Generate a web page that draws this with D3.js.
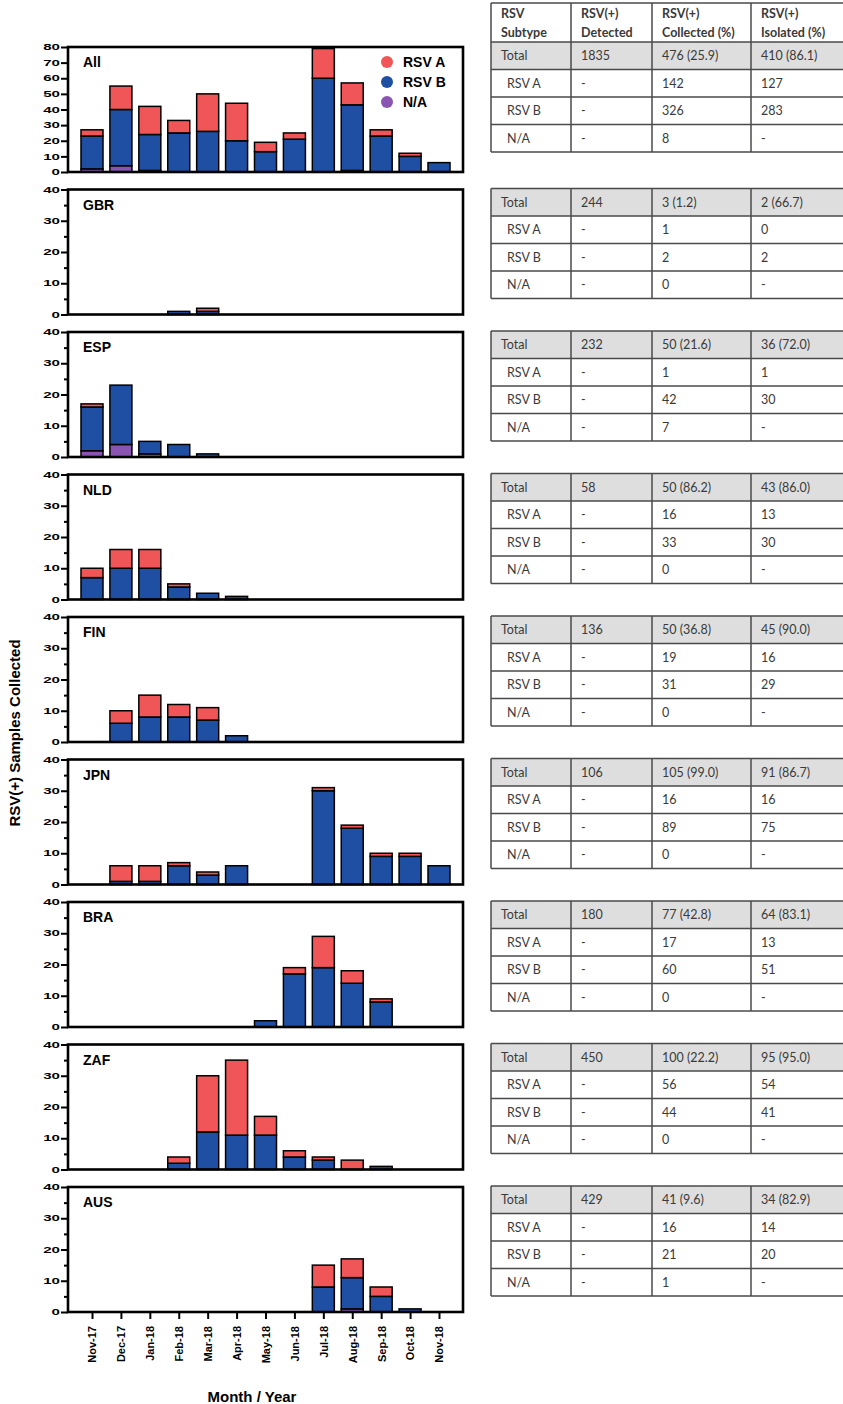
<!DOCTYPE html>
<html>
<head>
<meta charset="utf-8">
<script src="https://cdn.jsdelivr.net/npm/d3@7"></script>
<style>
  html, body { margin: 0; padding: 0; background: #fff; }
  svg { display: block; }
</style>
</head>
<body>
<script>
// ---------------- DATA ----------------
const months = ["Nov-17","Dec-17","Jan-18","Feb-18","Mar-18","Apr-18","May-18","Jun-18","Jul-18","Aug-18","Sep-18","Oct-18","Nov-18"];
const panels = ["All","GBR","ESP","NLD","FIN","JPN","BRA","ZAF","AUS"];
const yMax   = [80,40,40,40,40,40,40,40,40];

const rsvA = [
  [4,15,18,8,24,24,6,4,19,14,4,2,0],   // All
  [0,0,0,0,1,0,0,0,0,0,0,0,0],         // GBR
  [1,0,0,0,0,0,0,0,0,0,0,0,0],         // ESP
  [3,6,6,1,0,0,0,0,0,0,0,0,0],         // NLD
  [0,4,7,4,4,0,0,0,0,0,0,0,0],         // FIN
  [0,5,5,1,1,0,0,0,1,1,1,1,0],         // JPN
  [0,0,0,0,0,0,0,2,10,4,1,0,0],        // BRA
  [0,0,0,2,18,24,6,2,1,3,0,0,0],       // ZAF
  [0,0,0,0,0,0,0,0,7,6,3,0,0]          // AUS
];
const rsvB = [
  [21,36,23,25,26,20,13,21,60,42,23,10,6],
  [0,0,0,1,1,0,0,0,0,0,0,0,0],
  [14,19,4,4,1,0,0,0,0,0,0,0,0],
  [7,10,10,4,2,1,0,0,0,0,0,0,0],
  [0,6,8,8,7,2,0,0,0,0,0,0,0],
  [0,1,1,6,3,6,0,0,30,18,9,9,6],
  [0,0,0,0,0,0,2,17,19,14,8,0,0],
  [0,0,0,2,12,11,11,4,3,0,1,0,0],
  [0,0,0,0,0,0,0,0,8,10,5,1,0]
];
const rsvNA = [
  [2,4,1,0,0,0,0,0,0,1,0,0,0],
  [0,0,0,0,0,0,0,0,0,0,0,0,0],
  [2,4,1,0,0,0,0,0,0,0,0,0,0],
  [0,0,0,0,0,0,0,0,0,0,0,0,0],
  [0,0,0,0,0,0,0,0,0,0,0,0,0],
  [0,0,0,0,0,0,0,0,0,0,0,0,0],
  [0,0,0,0,0,0,0,0,0,0,0,0,0],
  [0,0,0,0,0,0,0,0,0,0,0,0,0],
  [0,0,0,0,0,0,0,0,0,1,0,0,0]
];

const seriesNames = ["N/A","RSV B","RSV A"];   // stacking order bottom -> top
const legendNames = ["RSV A","RSV B","N/A"];

// table
const tableHeader    = [["RSV","Subtype"],["RSV(+)","Detected"],["RSV(+)","Collected (%)"],["RSV(+)","Isolated (%)"]];
const rowLabels      = ["Total","RSV A","RSV B","N/A"];
const detected       = ["1835","244","232","58","136","106","180","450","429"];
const collectedTotal = ["476 (25.9)","3 (1.2)","50 (21.6)","50 (86.2)","50 (36.8)","105 (99.0)","77 (42.8)","100 (22.2)","41 (9.6)"];
const isolatedTotal  = ["410 (86.1)","2 (66.7)","36 (72.0)","43 (86.0)","45 (90.0)","91 (86.7)","64 (83.1)","95 (95.0)","34 (82.9)"];
const collectedA     = ["142","1","1","16","19","16","17","56","16"];
const isolatedA      = ["127","0","1","13","16","16","13","54","14"];
const collectedB     = ["326","2","42","33","31","89","60","44","21"];
const isolatedB      = ["283","2","30","30","29","75","51","41","20"];
const collectedNA    = ["8","0","7","0","0","0","0","0","1"];
const isolatedNA     = ["-","-","-","-","-","-","-","-","-"];

// ---------------- LAYOUT ----------------
const W = 843, H = 1404;
const frameL = 68, frameR = 463;
const top0 = 47, step = 142.5, panelH = 125;
const colors = {"RSV A":"#F05657","RSV B":"#1F4FA3","N/A":"#8A55B2"};
const chartFont = "'Liberation Sans', Arial, sans-serif";
const tableFont = "Lato, 'Open Sans', sans-serif";

const svg = d3.select("body").append("svg").attr("width", W).attr("height", H);

const x = d3.scalePoint().domain(months).range([92, 439]);
const barW = 22;

panels.forEach((p, i) => {
  const top = top0 + i * step;
  const y = d3.scaleLinear().domain([0, yMax[i]]).range([top + panelH, top]);
  const g = svg.append("g");

  const rows = months.map((m, j) => ({month: m, "N/A": rsvNA[i][j], "RSV B": rsvB[i][j], "RSV A": rsvA[i][j]}));
  const stack = d3.stack().keys(seriesNames)(rows);

  stack.forEach(layer => {
    g.append("g").selectAll("rect")
      .data(layer.filter(d => d[1] - d[0] > 0))
      .join("rect")
      .attr("x", d => x(d.data.month) - barW / 2)
      .attr("width", barW)
      .attr("y", d => y(d[1]))
      .attr("height", d => y(d[0]) - y(d[1]))
      .attr("fill", colors[layer.key])
      .attr("stroke", "#000")
      .attr("stroke-width", 1.5);
  });

  g.append("rect")
    .attr("x", frameL).attr("y", top)
    .attr("width", frameR - frameL).attr("height", panelH)
    .attr("fill", "none").attr("stroke", "#000").attr("stroke-width", 2.6);

  const majors = d3.range(0, yMax[i] + 1, 10);
  const ay = g.append("g").attr("transform", `translate(${frameL},0)`)
    .call(d3.axisLeft(y).tickValues(majors).tickSize(7).tickPadding(1).tickFormat(d3.format("d")));
  ay.select(".domain").remove();
  ay.selectAll(".tick line").attr("stroke", "#000").attr("stroke-width", 2);
  ay.selectAll(".tick text")
    .attr("font-family", chartFont).attr("font-weight", "bold").attr("font-size", 8.5)
    .attr("fill", "#000")
    .attr("textLength", d => String(d).length * 8.4)
    .attr("lengthAdjust", "spacingAndGlyphs");

  if (yMax[i] === 40) {
    const minors = d3.range(5, 40, 10);
    const am = g.append("g").attr("transform", `translate(${frameL},0)`)
      .call(d3.axisLeft(y).tickValues(minors).tickSize(4).tickFormat(""));
    am.select(".domain").remove();
    am.selectAll(".tick line").attr("stroke", "#000").attr("stroke-width", 2);
  }

  g.append("text")
    .attr("x", 83).attr("y", top + 20)
    .attr("font-family", chartFont).attr("font-weight", "bold").attr("font-size", 14)
    .text(p);

  if (i === panels.length - 1) {
    const ax = g.append("g").attr("transform", `translate(0,${top + panelH})`)
      .call(d3.axisBottom(x).tickSize(7).tickPadding(0));
    ax.select(".domain").remove();
    ax.selectAll(".tick line").attr("stroke", "#000").attr("stroke-width", 2);
    ax.selectAll(".tick text")
      .attr("font-family", chartFont).attr("font-weight", "bold").attr("font-size", 11)
      .attr("fill", "#000")
      .attr("text-anchor", "end")
      .attr("transform", "rotate(-90)")
      .attr("x", -14).attr("y", 0).attr("dy", "0.35em");
  }

  if (i === 0) {
    legendNames.forEach((n, k) => {
      g.append("circle").attr("cx", 387).attr("cy", 62 + k * 20).attr("r", 6)
        .attr("fill", colors[n]);
      g.append("text").attr("x", 403).attr("y", 62 + k * 20).attr("dy", "0.36em")
        .attr("font-family", chartFont).attr("font-weight", "bold").attr("font-size", 14)
        .text(n);
    });
  }
});

svg.append("text")
  .attr("transform", `translate(20,733) rotate(-90)`)
  .attr("text-anchor", "middle")
  .attr("font-family", chartFont).attr("font-weight", "bold").attr("font-size", 15)
  .text("RSV(+) Samples Collected");

svg.append("text")
  .attr("x", 252).attr("y", 1402)
  .attr("text-anchor", "middle")
  .attr("font-family", chartFont).attr("font-weight", "bold").attr("font-size", 15)
  .text("Month / Year");

// ---------------- TABLES ----------------
const colX = [491, 571, 652, 751, 860];
const rowH = 27.5;
const tcolor = "#3a3a3a";
const lineC = "#4a4a4a";

const hg = svg.append("g");
const hTop = 3, hBot = 42;
tableHeader.forEach((lines, c) => {
  lines.forEach((t, l) => {
    hg.append("text").attr("x", colX[c] + 10).attr("y", 13.5 + l * 19.5).attr("dy", "0.35em")
      .attr("font-family", tableFont).attr("font-weight", "bold").attr("font-size", 12.5)
      .attr("fill", tcolor).text(t);
  });
});
hg.append("line").attr("x1", colX[0]).attr("x2", colX[4]).attr("y1", hTop).attr("y2", hTop)
  .attr("stroke", lineC).attr("stroke-width", 1.5);
colX.slice(0, 4).forEach(cx => {
  hg.append("line").attr("x1", cx).attr("x2", cx).attr("y1", hTop).attr("y2", hBot)
    .attr("stroke", lineC).attr("stroke-width", 1.5);
});

panels.forEach((p, i) => {
  const tTop = i === 0 ? hBot : top0 + i * step - 1;
  const g = svg.append("g");
  const cells = [
    ["Total", detected[i], collectedTotal[i], isolatedTotal[i]],
    ["RSV A", "-", collectedA[i], isolatedA[i]],
    ["RSV B", "-", collectedB[i], isolatedB[i]],
    ["N/A", "-", collectedNA[i], isolatedNA[i]]
  ];
  g.append("rect").attr("x", colX[0]).attr("y", tTop)
    .attr("width", colX[4] - colX[0]).attr("height", rowH).attr("fill", "#DEDEDE");
  cells.forEach((row, r) => {
    row.forEach((t, c) => {
      g.append("text")
        .attr("x", colX[c] + (c === 0 && r > 0 ? 16 : 10))
        .attr("y", tTop + r * rowH + rowH / 2).attr("dy", "0.35em")
        .attr("font-family", tableFont).attr("font-size", 12.5)
        .attr("fill", tcolor).text(t);
    });
  });
  d3.range(0, 5).forEach(r => {
    g.append("line").attr("x1", colX[0]).attr("x2", colX[4])
      .attr("y1", tTop + r * rowH).attr("y2", tTop + r * rowH)
      .attr("stroke", lineC).attr("stroke-width", 1.5);
  });
  colX.slice(0, 4).forEach(cx => {
    g.append("line").attr("x1", cx).attr("x2", cx)
      .attr("y1", tTop).attr("y2", tTop + 4 * rowH)
      .attr("stroke", lineC).attr("stroke-width", 1.5);
  });
});
</script>
</body>
</html>
